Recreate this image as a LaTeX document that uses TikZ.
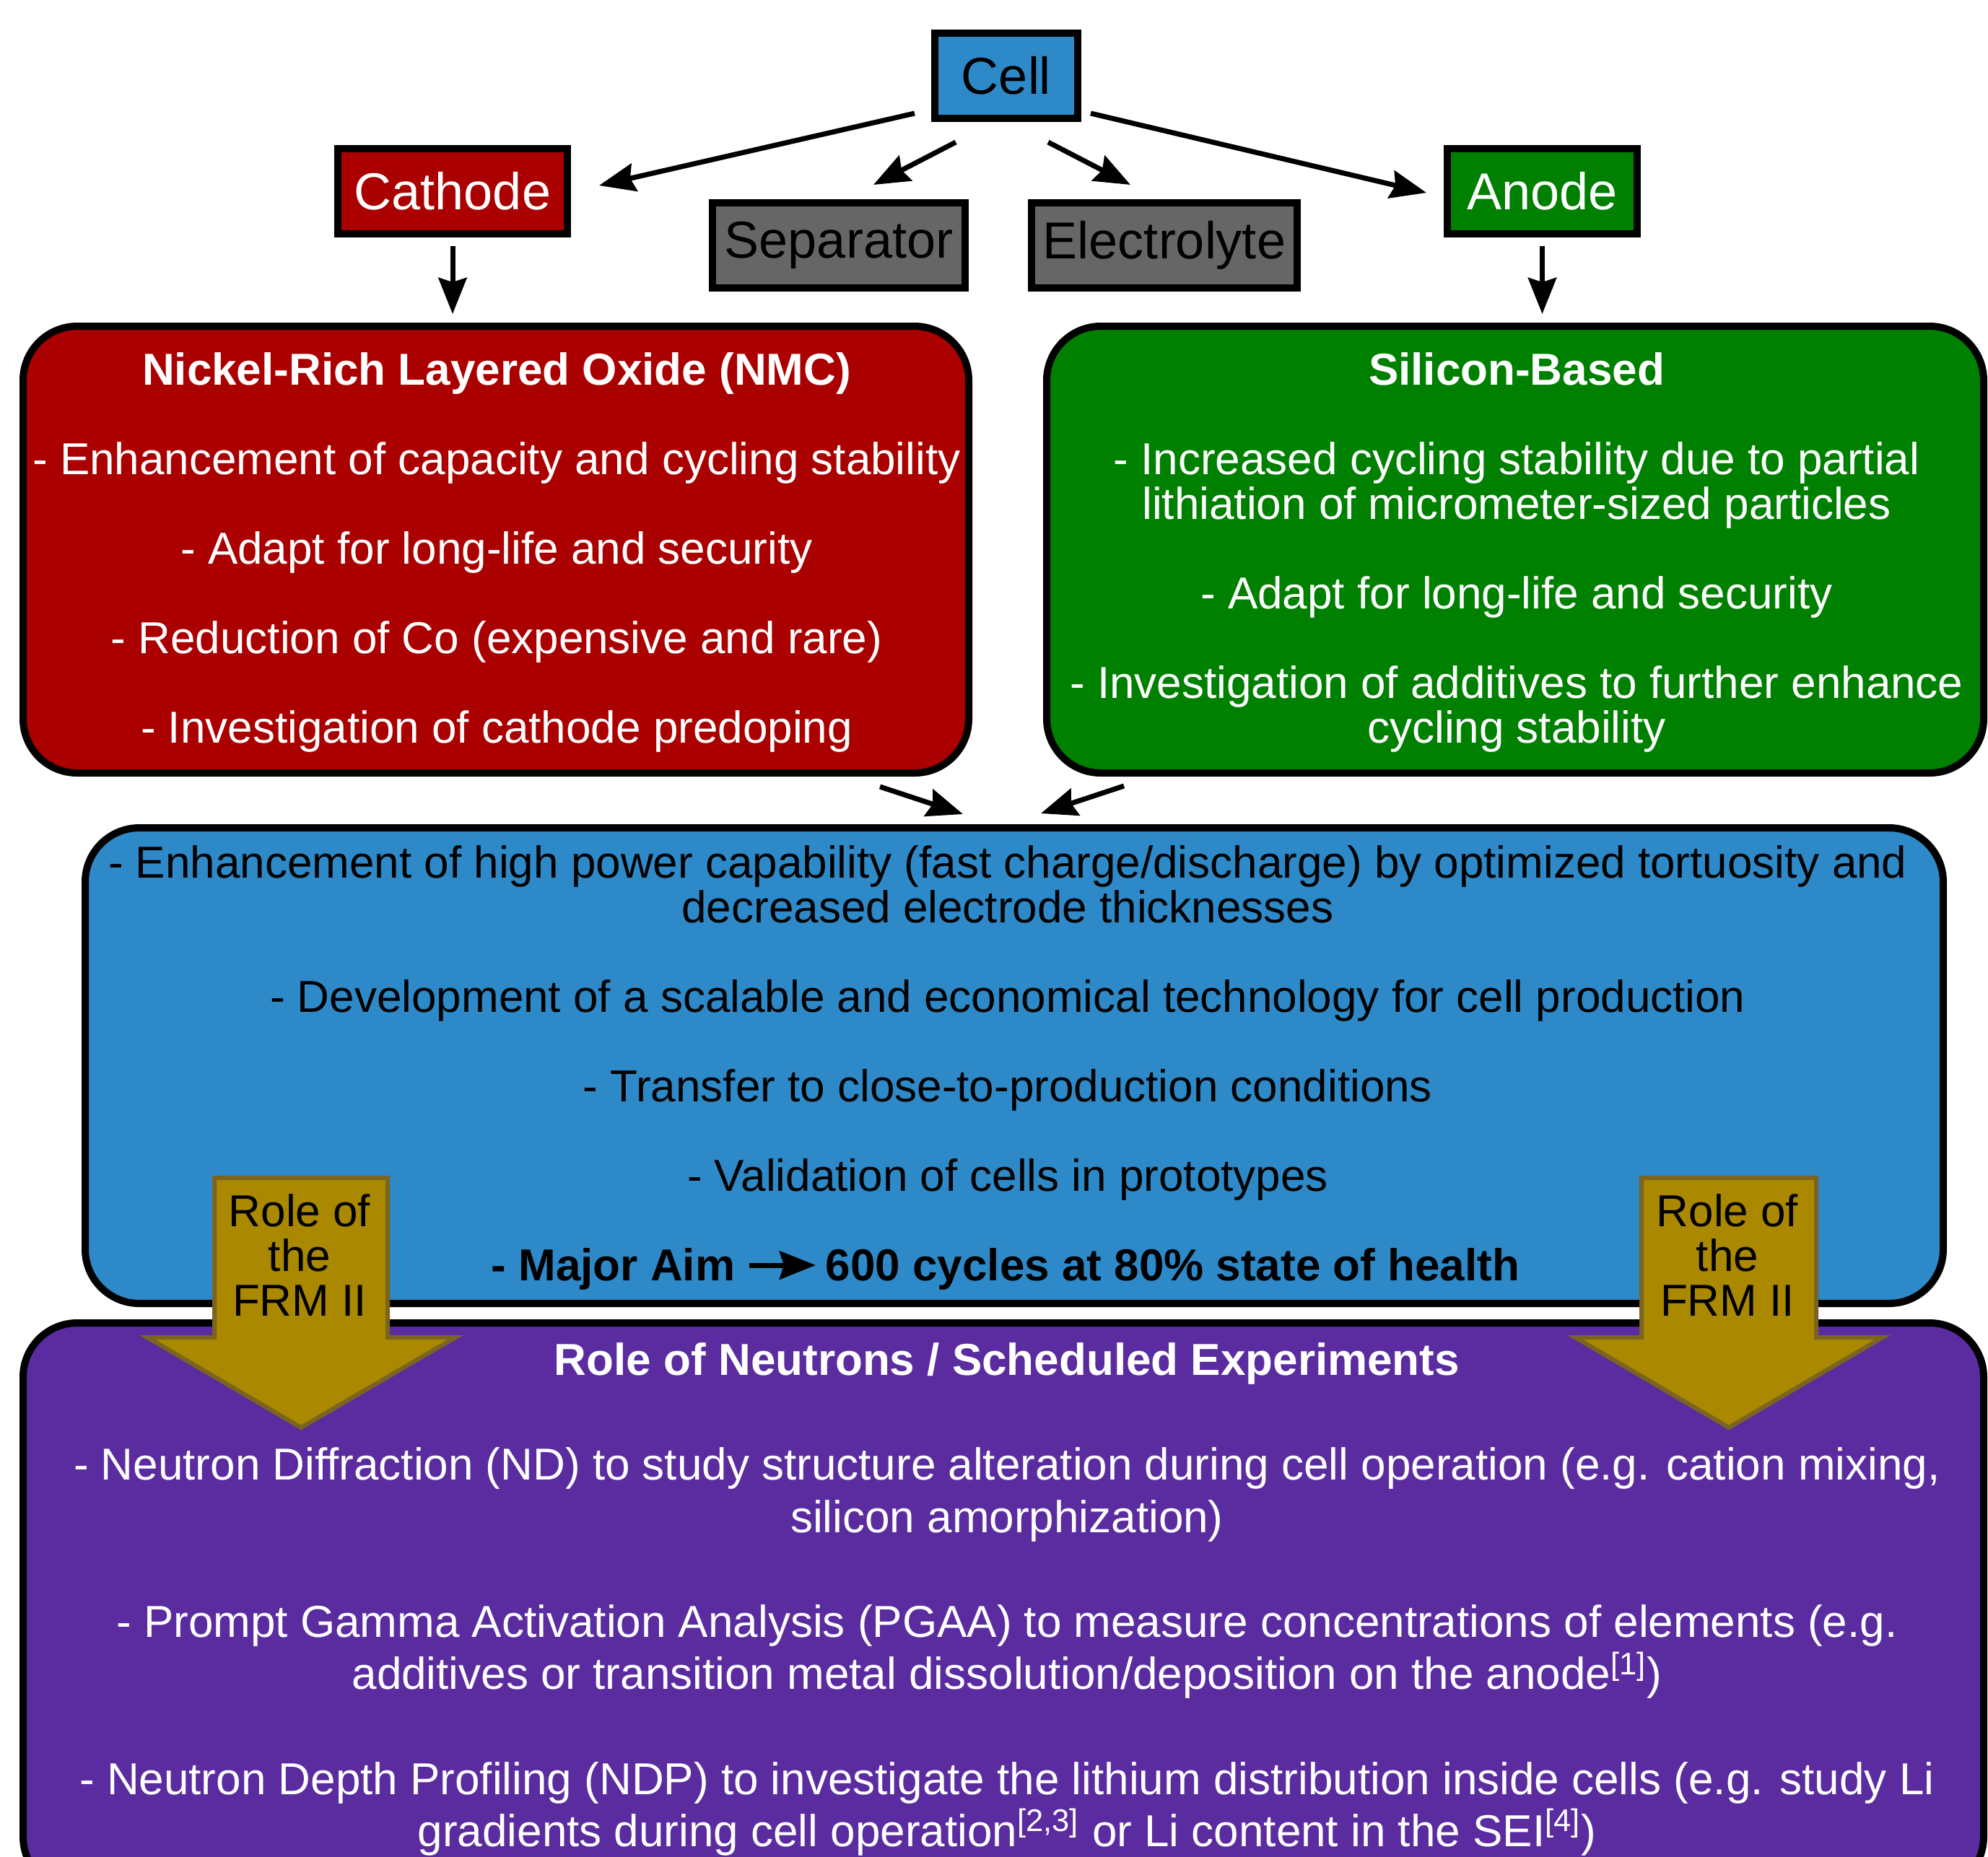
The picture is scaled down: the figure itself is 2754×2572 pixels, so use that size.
\documentclass[tikz,border=0pt]{standalone}
\usepackage{fontspec}
\setmainfont{Liberation Sans}
\usetikzlibrary{arrows.meta,calc}
\definecolor{cellblue}{RGB}{46,137,200}
\definecolor{cathred}{RGB}{170,0,0}
\definecolor{anodegreen}{RGB}{0,128,0}
\definecolor{partgray}{RGB}{102,102,102}
\definecolor{neutpurple}{RGB}{90,44,160}
\definecolor{frmgold}{RGB}{170,136,0}
\definecolor{frmedge}{RGB}{122,100,32}
\begin{document}
\begin{tikzpicture}[x=0.25pt,y=-0.25pt,
  box/.style={draw=black,line width=2.5pt,outer sep=0pt,inner sep=0pt},
  rbox/.style={box,rounded corners=18.75pt},
  lbl/.style={font=\fontsize{18}{18}\selectfont},
  txt/.style={align=center,inner sep=0pt,font=\fontsize{15.5}{15.5}\selectfont},
  ptxt/.style={align=center,inner sep=0pt,font=\fontsize{15.5}{18.15}\selectfont},
  arr/.style={line width=1.75pt,-{Stealth[length=12.5pt,width=9.75pt,inset=1.5pt]}},
  frm/.style={fill=frmgold,draw=frmedge,line width=1.5pt,line join=miter}]
\useasboundingbox (0,0) rectangle (2754,2572);
\clip (0,0) rectangle (2754,2572);
\fill[white] (0,0) rectangle (2754,2572);

% top boxes
\node[box,lbl,fill=cellblue,minimum width=49.5pt,minimum height=29.5pt] (cell) at (1394,105) {Cell};
\node[box,lbl,fill=cathred,text=white,minimum width=79.5pt,minimum height=29.5pt] (cathode) at (627,265) {Cathode};
\node[box,lbl,fill=anodegreen,text=white,minimum width=65.75pt,minimum height=29.5pt] (anode) at (2136.5,265) {Anode};
\node[box,lbl,fill=partgray,minimum width=87.5pt,minimum height=29.5pt] (separator) at (1162,340) {Separator};
\node[box,lbl,fill=partgray,minimum width=92pt,minimum height=29.5pt] (electrolyte) at (1613,340) {Electrolyte};

% material boxes
\node[rbox,fill=cathred,minimum width=327.5pt,minimum height=154.75pt] (nmc) at (687,761.5) {};
\node[txt,text=white] (nmctext) at (688,765)
 {\textbf{Nickel-Rich Layered Oxide (NMC)}\\[15.5pt]
  - Enhancement of capacity and cycling stability\\[15.5pt]
  - Adapt for long-life and security\\[15.5pt]
  - Reduction of Co (expensive and rare)\\[15.5pt]
  - Investigation of cathode predoping};
\node[rbox,fill=anodegreen,minimum width=324.5pt,minimum height=154.75pt] (silicon) at (2099,761.5) {};
\node[txt,text=white] (sitext) at (2101,765)
 {\textbf{Silicon-Based}\\[15.5pt]
  - Increased cycling stability due to partial\\
  lithiation of micrometer-sized particles\\[15.5pt]
  - Adapt for long-life and security\\[15.5pt]
  - Investigation of additives to further enhance\\
  cycling stability};

% goals box and neutrons box
\node[rbox,fill=cellblue,minimum width=643.5pt,minimum height=164.75pt] (goals) at (1405,1476.5) {};
\node[rbox,fill=neutpurple,minimum width=679pt,minimum height=196.75pt] (neutrons) at (1390,2226.5) {};

\node[txt] (goaltext) at (1396,1417)
 {- Enhancement of high power capability (fast charge/discharge) by optimized tortuosity and\\
  decreased electrode thicknesses\\[15.5pt]
  - Development of a scalable and economical technology for cell production\\[15.5pt]
  - Transfer to close-to-production conditions\\[15.5pt]
  - Validation of cells in prototypes};
\node[txt,font=\fontsize{15.5}{15.5}\selectfont\bfseries,anchor=base east] (aim1) at (1019,1774) {- Major Aim};
\node[txt,font=\fontsize{15.5}{15.5}\selectfont\bfseries,anchor=base west] (aim2) at (1143,1774) {600 cycles at 80\% state of health};
\draw[arr] ($(aim1.base east)+(19,-21)$) -- ($(aim2.base west)+(-13,-21)$);

\node[ptxt,text=white] (neuttext) at (1395,2216)
 {\textbf{Role of Neutrons / Scheduled Experiments}\\[18.15pt]
  - Neutron Diffraction (ND) to study structure alteration during cell operation (e.g. cation mixing,\\
  silicon amorphization)\\[18.15pt]
  - Prompt Gamma Activation Analysis (PGAA) to measure concentrations of elements (e.g.\\
  additives or transition metal dissolution/deposition on the anode\textsuperscript{[1]})\\[18.15pt]
  - Neutron Depth Profiling (NDP) to investigate the lithium distribution inside cells (e.g. study Li\\
  gradients during cell operation\textsuperscript{[2,3]} or Li content in the SEI\textsuperscript{[4]})};

% FRM II arrows
\draw[frm] (297,1632) -- (537,1632) -- (537,1853) -- (631,1853) -- (417,1978) -- (204,1853) -- (297,1853) -- cycle;
\draw[frm] (2274,1632) -- (2516,1632) -- (2516,1853) -- (2608,1853) -- (2395,1978) -- (2182,1853) -- (2274,1853) -- cycle;
\node[txt] (frmL) at (415,1739) {Role of\\the\\FRM II};
\node[txt] (frmR) at (2393,1739) {Role of\\the\\FRM II};

% connectors
\draw[arr] ($(cell.south west)+(-28,-7)$) -- ($(cathode.east)+(44,-8)$);
\draw[arr] ($(cell.south)+(-70,33)$) -- ($(separator.north)+(48,-25)$);
\draw[arr] ($(cell.south)+(58,33)$) -- ($(electrolyte.north)+(-47,-25)$);
\draw[arr] ($(cell.south east)+(18,-7)$) -- ($(anode.west)+(-29,2)$);
\draw[arr,shorten <=4.25pt,shorten >=4.25pt] (cathode.south) -- (cathode.south |- nmc.north);
\draw[arr,shorten <=4.25pt,shorten >=4.25pt] (anode.south) -- (anode.south |- silicon.north);
\draw[arr] ($(nmc.south east)+(-123,19)$) -- ($(goals.north)+(-71,-19)$);
\draw[arr] ($(silicon.south west)+(107,18)$) -- ($(goals.north)+(37,-20)$);
\end{tikzpicture}
\end{document}
